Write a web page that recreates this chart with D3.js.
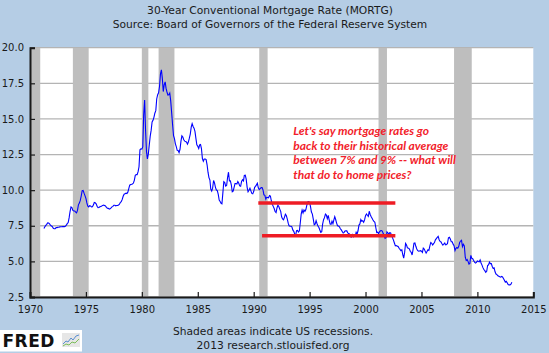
<!DOCTYPE html>
<html>
<head>
<meta charset="utf-8">
<script src="https://cdn.jsdelivr.net/npm/d3@7"></script>
<style>
  body { margin: 0; background: #b5cde5; }
  svg { display: block; }
</style>
</head>
<body>
<div id="chart"></div>
<script>
// ---- data ----
const titleLines = ["30-Year Conventional Mortgage Rate (MORTG)",
                    "Source: Board of Governors of the Federal Reserve System"];
const footerLines = ["Shaded areas indicate US recessions.", "2013 research.stlouisfed.org"];
const yTickValues = [2.5, 5.0, 7.5, 10.0, 12.5, 15.0, 17.5, 20.0];
const xTickYears = [1970, 1975, 1980, 1985, 1990, 1995, 2000, 2005, 2010, 2015];

// NBER recessions, peak month -> trough month
const recessions = [
  ["1969-12", "1970-11"], ["1973-11", "1975-03"], ["1980-01", "1980-07"],
  ["1981-07", "1982-11"], ["1990-07", "1991-03"], ["2001-03", "2001-11"],
  ["2007-12", "2009-06"]
];

// monthly rate, starting April 1971
const firstMonth = "1971-04";
const rates = [
  7.31, 7.43, 7.53, 7.60, 7.70, 7.69, 7.63, 7.55, 7.48,                  // 1971
  7.44, 7.32, 7.29, 7.29, 7.37, 7.37, 7.40, 7.40, 7.42, 7.43, 7.43, 7.44, // 1972
  7.44, 7.44, 7.46, 7.54, 7.65, 7.73, 8.05, 8.50, 8.82, 8.78, 8.58, 8.54, // 1973
  8.54, 8.46, 8.41, 8.58, 8.97, 9.09, 9.28, 9.59, 9.96, 9.98, 9.79, 9.62, // 1974
  9.43, 9.10, 8.89, 8.82, 8.91, 8.89, 8.82, 8.84, 8.95, 9.13, 9.11, 9.04, // 1975
  8.87, 8.77, 8.78, 8.83, 8.86, 8.89, 8.93, 8.95, 8.92, 8.89, 8.79, 8.73, // 1976
  8.72, 8.67, 8.69, 8.75, 8.83, 8.86, 8.94, 8.94, 8.90, 8.92, 8.92, 8.96, // 1977
  9.01, 9.15, 9.20, 9.35, 9.57, 9.71, 9.74, 9.79, 9.76, 9.86, 10.11, 10.35, // 1978
  10.39, 10.41, 10.43, 10.50, 10.69, 11.04, 11.09, 11.09, 11.30, 11.64, 12.83, 12.90, // 1979
  12.88, 13.04, 15.28, 16.32, 14.26, 12.71, 12.19, 12.56, 13.20, 13.79, 14.21, 14.79, // 1980
  14.90, 15.13, 15.40, 15.58, 16.40, 16.70, 16.83, 17.29, 18.16, 18.45, 17.83, 16.92, // 1981
  17.40, 17.60, 17.16, 16.89, 16.68, 16.70, 16.82, 16.27, 15.43, 14.61, 13.83, 13.62, // 1982
  13.25, 13.04, 12.80, 12.78, 12.63, 12.87, 13.42, 13.81, 13.73, 13.54, 13.44, 13.42, // 1983
  13.37, 13.23, 13.39, 13.65, 13.94, 14.42, 14.67, 14.47, 14.35, 14.13, 13.64, 13.18, // 1984
  13.08, 12.92, 13.17, 13.20, 12.91, 12.22, 12.03, 12.19, 12.19, 12.14, 11.78, 11.26, // 1985
  10.88, 10.71, 10.08, 9.94, 10.14, 10.68, 10.51, 10.20, 10.01, 9.97, 9.70, 9.31,    // 1986
  9.20, 9.08, 9.04, 9.83, 10.60, 10.54, 10.28, 10.33, 10.89, 11.26, 10.65, 10.65,    // 1987
  10.38, 9.89, 9.93, 10.20, 10.46, 10.46, 10.43, 10.60, 10.48, 10.30, 10.27, 10.61,  // 1988
  10.73, 10.65, 11.03, 11.05, 10.77, 10.20, 9.88, 9.99, 10.13, 9.95, 9.77, 9.74,     // 1989
  9.90, 10.20, 10.27, 10.37, 10.48, 10.16, 10.04, 10.10, 10.18, 10.18, 10.01, 9.67,  // 1990
  9.64, 9.37, 9.50, 9.49, 9.47, 9.62, 9.58, 9.24, 9.01, 8.86, 8.71, 8.50,           // 1991
  8.43, 8.76, 8.94, 8.85, 8.67, 8.51, 8.13, 7.98, 7.92, 8.09, 8.31, 8.22,           // 1992
  7.99, 7.68, 7.50, 7.47, 7.47, 7.42, 7.21, 7.11, 6.92, 6.83, 7.16, 7.17,           // 1993
  7.06, 7.15, 7.68, 8.32, 8.60, 8.40, 8.61, 8.51, 8.64, 8.93, 9.17, 9.20,           // 1994
  9.15, 8.83, 8.46, 8.32, 7.96, 7.57, 7.61, 7.86, 7.64, 7.48, 7.38, 7.20,           // 1995
  7.03, 7.08, 7.62, 7.93, 8.07, 8.32, 8.25, 8.00, 8.23, 7.92, 7.62, 7.60,           // 1996
  7.82, 7.65, 7.90, 8.14, 7.94, 7.69, 7.50, 7.48, 7.43, 7.29, 7.21, 7.10,           // 1997
  6.99, 7.04, 7.13, 7.14, 7.14, 7.00, 6.95, 6.92, 6.72, 6.71, 6.87, 6.72,           // 1998
  6.79, 6.81, 7.04, 6.92, 7.15, 7.55, 7.63, 7.94, 7.82, 7.85, 7.74, 7.91,           // 1999
  8.21, 8.33, 8.24, 8.15, 8.52, 8.29, 8.15, 8.03, 7.91, 7.80, 7.75, 7.38,           // 2000
  7.03, 7.05, 6.95, 7.08, 7.15, 7.16, 7.13, 6.95, 6.82, 6.62, 6.66, 7.07,           // 2001
  7.00, 6.89, 7.01, 6.99, 6.81, 6.65, 6.49, 6.29, 6.09, 6.11, 6.07, 6.05,           // 2002
  5.92, 5.84, 5.75, 5.81, 5.48, 5.23, 5.63, 6.26, 6.15, 5.95, 5.93, 5.88,           // 2003
  5.71, 5.64, 5.45, 5.83, 6.27, 6.29, 6.06, 5.87, 5.75, 5.72, 5.73, 5.75,           // 2004
  5.71, 5.63, 5.93, 5.86, 5.72, 5.58, 5.70, 5.82, 5.77, 6.07, 6.33, 6.27,           // 2005
  6.15, 6.25, 6.32, 6.51, 6.60, 6.68, 6.76, 6.52, 6.40, 6.36, 6.24, 6.14,           // 2006
  6.22, 6.29, 6.16, 6.18, 6.26, 6.66, 6.70, 6.57, 6.38, 6.38, 6.21, 6.10,           // 2007
  5.76, 5.92, 5.97, 5.92, 6.04, 6.32, 6.43, 6.48, 6.04, 6.20, 6.09, 5.29,           // 2008
  5.06, 5.13, 5.00, 4.81, 4.86, 5.42, 5.22, 5.19, 5.06, 4.95, 4.88, 4.93,           // 2009
  5.03, 4.99, 4.97, 5.10, 4.89, 4.74, 4.56, 4.43, 4.35, 4.23, 4.30, 4.71,           // 2010
  4.76, 4.95, 4.84, 4.84, 4.64, 4.51, 4.55, 4.27, 4.11, 4.07, 3.99, 3.96,           // 2011
  3.92, 3.89, 3.95, 3.91, 3.80, 3.68, 3.55, 3.60, 3.50, 3.38, 3.35, 3.35,           // 2012
  3.41, 3.53                                                                        // 2013
];

// the two red "historical average" lines drawn over the chart
const bandLines = [
  { from: "1990-06", to: "2002-09", value: 9.09 },
  { from: "1990-10", to: "2002-09", value: 6.80 }
];
const noteLines = ["Let's say mortgage rates go",
                   "back to their historical average",
                   "between 7% and 9% -- what will",
                   "that do to home prices?"];

// ---- drawing ----
const W = 549, H = 353;
const plot = { left: 30, right: 533.3, top: 47.7, bottom: 297 };
const parseMonth = d3.timeParse("%Y-%m");
const start = parseMonth(firstMonth);
const series = rates.map((v, i) => ({ date: d3.timeMonth.offset(start, i), value: v }));

const svg = d3.select("#chart").append("svg")
    .attr("width", W)
    .attr("height", H)
    .style("font-family", "'DejaVu Sans', Verdana, sans-serif");

svg.append("rect").attr("width", W).attr("height", H).attr("fill", "#b5cde5");

const x = d3.scaleTime()
    .domain([new Date(1970, 0, 1), new Date(2015, 0, 1)])
    .range([plot.left, plot.right]);
const y = d3.scaleLinear()
    .domain([2.5, 20])
    .range([plot.bottom, plot.top]);

svg.append("defs").append("clipPath").attr("id", "clip")
  .append("rect")
    .attr("x", plot.left).attr("y", plot.top)
    .attr("width", plot.right - plot.left).attr("height", plot.bottom - plot.top);

svg.append("rect")
    .attr("x", plot.left).attr("y", plot.top)
    .attr("width", plot.right - plot.left).attr("height", plot.bottom - plot.top)
    .attr("fill", "#fff");

// gridlines
svg.append("g").selectAll("line")
  .data(yTickValues)
  .join("line")
    .attr("x1", plot.left).attr("x2", plot.right)
    .attr("y1", d => y(d)).attr("y2", d => y(d))
    .attr("stroke", "#b4b4b4")
    .attr("stroke-width", 1.3);

// recession bars
svg.append("g").attr("clip-path", "url(#clip)")
  .selectAll("rect")
  .data(recessions)
  .join("rect")
    .attr("x", d => x(parseMonth(d[0])))
    .attr("width", d => x(d3.timeMonth.offset(parseMonth(d[1]), 1)) - x(parseMonth(d[0])))
    .attr("y", plot.top)
    .attr("height", plot.bottom - plot.top)
    .attr("fill", "#bebebe");

// the rate line
const line = d3.line().x(d => x(d.date)).y(d => y(d.value));
svg.append("path")
    .datum(series)
    .attr("fill", "none")
    .attr("stroke", "#0000ff")
    .attr("stroke-width", 1.1)
    .attr("d", line);

// axes
const xAxis = svg.append("g")
    .attr("transform", `translate(0,${plot.bottom})`)
    .call(d3.axisBottom(x)
        .tickValues(xTickYears.map(yr => new Date(yr, 0, 1)))
        .tickFormat(d3.timeFormat("%Y"))
        .tickSize(-5)
        .tickPadding(9));
const yAxis = svg.append("g")
    .attr("transform", `translate(${plot.left},0)`)
    .call(d3.axisLeft(y)
        .tickValues(yTickValues)
        .tickFormat(d3.format(".1f"))
        .tickSize(-5)
        .tickPadding(6));

[xAxis, yAxis].forEach(g => {
  g.select(".domain").attr("stroke", "#1a1a1a").attr("stroke-width", 2);
  g.selectAll(".tick line").attr("stroke", "#1a1a1a").attr("stroke-width", 1.2);
  g.selectAll("text")
      .attr("fill", "#1a1a1a")
      .style("font-size", "10px")
      .style("font-family", "'DejaVu Sans', Verdana, sans-serif");
});

// titles
svg.append("g").selectAll("text")
  .data(titleLines)
  .join("text")
    .attr("x", 270)
    .attr("y", (d, i) => 14 + i * 14)
    .attr("text-anchor", "middle")
    .attr("fill", "#1a1a1a")
    .style("font-size", "10.7px")
    .text(d => d);

svg.append("g").selectAll("text")
  .data(footerLines)
  .join("text")
    .attr("x", 273)
    .attr("y", (d, i) => 335 + i * 14)
    .attr("text-anchor", "middle")
    .attr("fill", "#1a1a1a")
    .style("font-size", "10.7px")
    .text(d => d);

// red annotation
svg.append("g").selectAll("line")
  .data(bandLines)
  .join("line")
    .attr("x1", d => x(parseMonth(d.from)))
    .attr("x2", d => x(parseMonth(d.to)))
    .attr("y1", d => y(d.value))
    .attr("y2", d => y(d.value))
    .attr("stroke", "#ee1c24")
    .attr("stroke-width", 3.5);

svg.append("g").selectAll("text")
  .data(noteLines)
  .join("text")
    .attr("x", 293.3)
    .attr("y", (d, i) => 135 + i * 14.7)
    .attr("fill", "#f21d2b")
    .style("font-family", "Lato, 'Open Sans', sans-serif")
    .style("font-style", "italic")
    .style("font-weight", "bold")
    .style("font-size", "12px")
    .text(d => d);

// FRED logo
const logo = svg.append("g");
logo.append("rect").attr("x", 0).attr("y", 330).attr("width", 82).attr("height", 21.5).attr("fill", "#fff");
logo.append("text")
    .attr("x", 2.5).attr("y", 346.5)
    .attr("fill", "#111")
    .style("font-family", "'DejaVu Sans', sans-serif")
    .style("font-weight", "bold")
    .style("font-size", "17px")
    .style("letter-spacing", "0.5px")
    .text("FRED");
logo.append("rect").attr("x", 62).attr("y", 333).attr("width", 18).attr("height", 14).attr("fill", "#e6e6e6");
logo.append("path")
    .attr("d", "M63,344 L66,341 L68,342 L71,338 L73,340 L76,336 L79,335")
    .attr("fill", "none").attr("stroke", "#5b8fd0").attr("stroke-width", 1);
logo.append("path")
    .attr("d", "M63,346 L66,344 L69,345 L72,342 L75,343 L79,339")
    .attr("fill", "none").attr("stroke", "#7cbf5a").attr("stroke-width", 1);
</script>
</body>
</html>
